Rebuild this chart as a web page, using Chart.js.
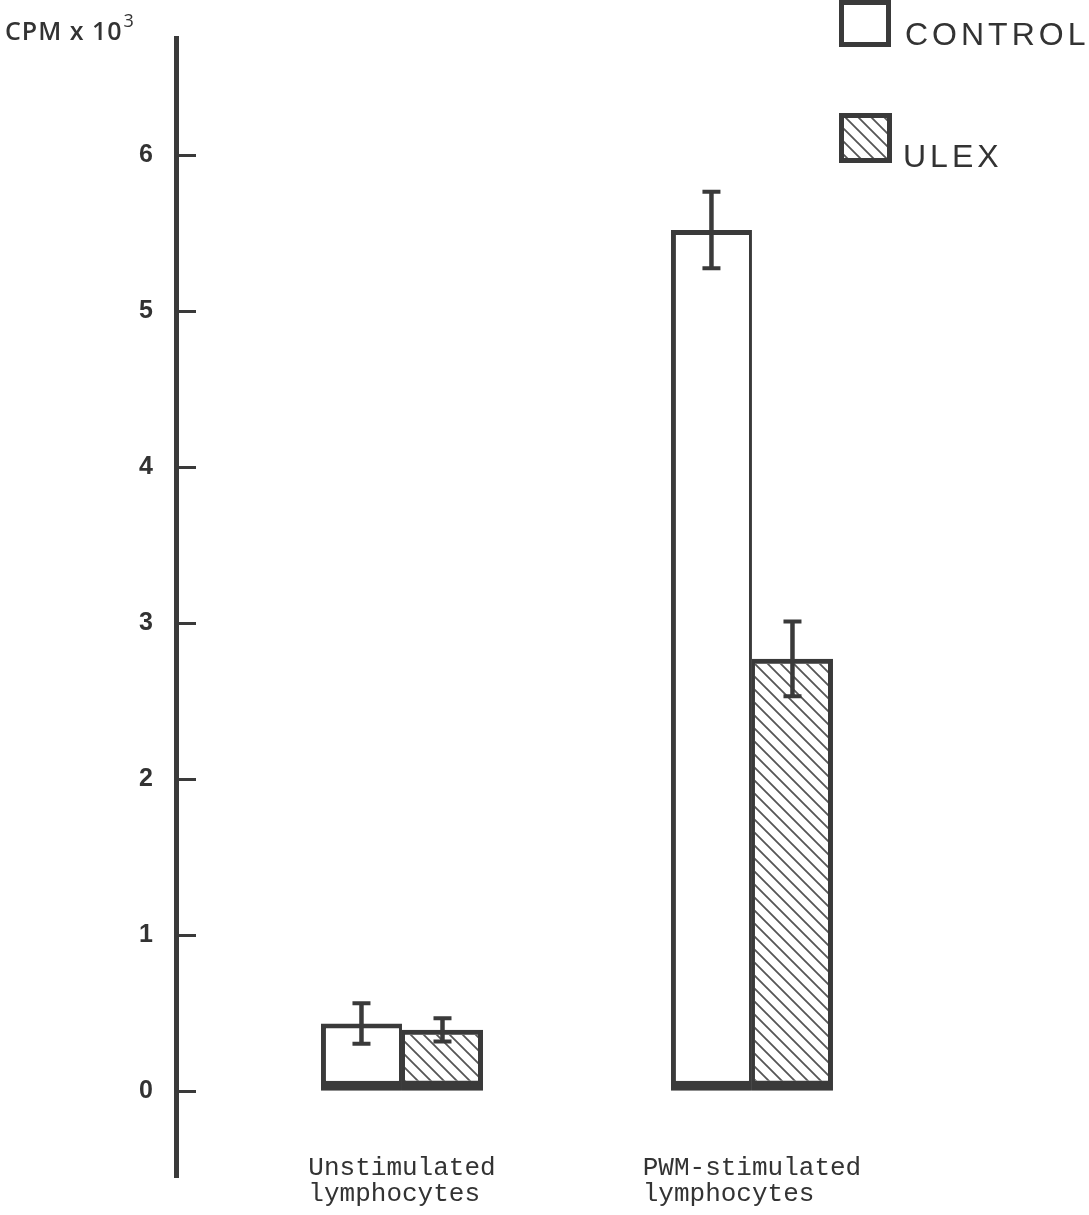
<!DOCTYPE html>
<html>
<head>
<meta charset="utf-8">
<script src="https://cdn.jsdelivr.net/npm/chart.js@4"></script>
<style>
  html, body { margin: 0; padding: 0; background: #fff; }
</style>
</head>
<body>
<canvas id="myChart" width="1089" height="1215"></canvas>
<script>
// categories (second lines padded so the monospace lines line up on the left)
const categories = [
  ["Unstimulated", "lymphocytes "],
  ["PWM-stimulated", "lymphocytes   "],
];
const seriesNames = ["CONTROL", "ULEX"];
const controlValues = [0.43, 5.52];
const ulexValues = [0.39, 2.77];
const controlErrors = [0.13, 0.245];
const ulexErrors = [0.075, 0.24];
const yTicks = [0, 1, 2, 3, 4, 5, 6];

const ink = "#3a3a3a";
const cxt = document.querySelector("#myChart");

// diagonal "\\\" hatching for the ULEX bars
function makeHatch() {
  const c = document.createElement("canvas");
  c.width = 13;
  c.height = 13;
  const g = c.getContext("2d");
  g.strokeStyle = "#555";
  g.lineWidth = 1.8;
  g.beginPath();
  g.moveTo(-2, -2); g.lineTo(15, 15);
  g.moveTo(-2, 11); g.lineTo(2, 15);
  g.moveTo(11, -2); g.lineTo(15, 2);
  g.stroke();
  return cxt.getContext("2d").createPattern(c, "repeat");
}

const toPoints = (vals) => vals.map((v, i) => ({ x: i, y: v }));

// I-shaped error bars on top of each bar
const errorBars = {
  id: "errorBars",
  afterDatasetsDraw(chart) {
    const ctx = chart.ctx;
    const y = chart.scales.y;
    chart.data.datasets.forEach((ds, di) => {
      chart.getDatasetMeta(di).data.forEach((bar, i) => {
        const v = ds.data[i].y;
        const e = ds.errors[i];
        const top = y.getPixelForValue(v + e);
        const bot = y.getPixelForValue(v - e);
        ctx.save();
        ctx.strokeStyle = ink;
        ctx.lineWidth = 4.5;
        ctx.beginPath();
        ctx.moveTo(bar.x, top);
        ctx.lineTo(bar.x, bot);
        ctx.stroke();
        ctx.lineWidth = 4;
        ctx.beginPath();
        ctx.moveTo(bar.x - 9, top);
        ctx.lineTo(bar.x + 9, top);
        ctx.moveTo(bar.x - 9, bot);
        ctx.lineTo(bar.x + 9, bot);
        ctx.stroke();
        ctx.restore();
      });
    });
  },
};

// short tick marks pointing into the plot, the axis title and the legend
const decorations = {
  id: "decorations",
  afterDraw(chart) {
    const ctx = chart.ctx;
    const y = chart.scales.y;
    const left = chart.chartArea.left;
    ctx.save();
    ctx.strokeStyle = ink;
    ctx.lineWidth = 3;
    yTicks.forEach((t) => {
      const py = Math.round(y.getPixelForValue(t)) + 0.5;
      ctx.beginPath();
      ctx.moveTo(left, py);
      ctx.lineTo(left + 20, py);
      ctx.stroke();
    });

    // CPM x 10^3
    ctx.fillStyle = "#333";
    ctx.textBaseline = "alphabetic";
    ctx.textAlign = "left";
    ctx.font = "600 25px 'Open Sans'";
    ctx.letterSpacing = "1px";
    const title = "CPM x 10";
    ctx.fillText(title, 5, 40);
    const w = ctx.measureText(title).width;
    ctx.font = "500 18px 'Open Sans'";
    ctx.fillText("3", 5 + w + 1, 27);

    // legend
    const boxes = [
      { x: 839, y: 0, w: 52, h: 47, tx: 905, ty: 45 },
      { x: 839, y: 113, w: 53, h: 50, tx: 903, ty: 167 },
    ];
    ctx.letterSpacing = "4px";
    chart.data.datasets.forEach((ds, i) => {
      const b = boxes[i];
      ctx.fillStyle = ds.backgroundColor;
      ctx.fillRect(b.x, b.y, b.w, b.h);
      ctx.strokeStyle = ink;
      ctx.lineWidth = 5;
      ctx.strokeRect(b.x + 2.5, b.y + 2.5, b.w - 5, b.h - 5);
      ctx.fillStyle = "#333";
      ctx.font = "32px 'Liberation Sans'";
      ctx.fillText(ds.label, b.tx, b.ty);
    });
    ctx.restore();
  },
};

const config = {
  type: "bar",
  data: {
    datasets: [
      {
        label: seriesNames[0],
        data: toPoints(controlValues),
        errors: controlErrors,
        backgroundColor: "#ffffff",
        borderColor: ink,
        borderWidth: { top: 5, left: 5, right: 3, bottom: 10 },
        borderSkipped: false,
      },
      {
        label: seriesNames[1],
        data: toPoints(ulexValues),
        errors: ulexErrors,
        backgroundColor: makeHatch(),
        borderColor: ink,
        borderWidth: { top: 5, left: 3, right: 5, bottom: 10 },
        borderSkipped: false,
      },
    ],
  },
  options: {
    responsive: false,
    animation: false,
    categoryPercentage: 0.463,
    barPercentage: 1,
    layout: { padding: { top: 35, left: 0, right: 0, bottom: 0 } },
    plugins: {
      legend: { display: false },
      tooltip: { enabled: false },
    },
    scales: {
      x: {
        type: "linear",
        min: -0.6457,
        max: 1.963,
        offset: false,
        grid: { display: false, drawTicks: false },
        border: { display: false },
        afterBuildTicks: (scale) => {
          scale.ticks = categories.map((c, i) => ({ value: i }));
        },
        afterFit: (scale) => {
          scale.height = 33;
        },
        ticks: {
          autoSkip: false,
          maxRotation: 0,
          minRotation: 0,
          mirror: true,
          padding: -4,
          color: "#333",
          font: { family: "'Liberation Mono'", size: 26, lineHeight: 0.98 },
          callback: (value) => categories[value],
        },
      },
      y: {
        min: -0.554,
        max: 6.752,
        grid: { display: false, drawTicks: false },
        border: { display: true, color: ink, width: 5 },
        afterBuildTicks: (scale) => {
          scale.ticks = yTicks.map((v) => ({ value: v }));
        },
        afterFit: (scale) => {
          scale.width = 176;
        },
        ticks: {
          padding: 23,
          color: "#333",
          font: { family: "'Liberation Sans'", size: 25, weight: "bold" },
        },
      },
    },
  },
  plugins: [errorBars, decorations],
};

new Chart(cxt, config);
</script>
</body>
</html>
